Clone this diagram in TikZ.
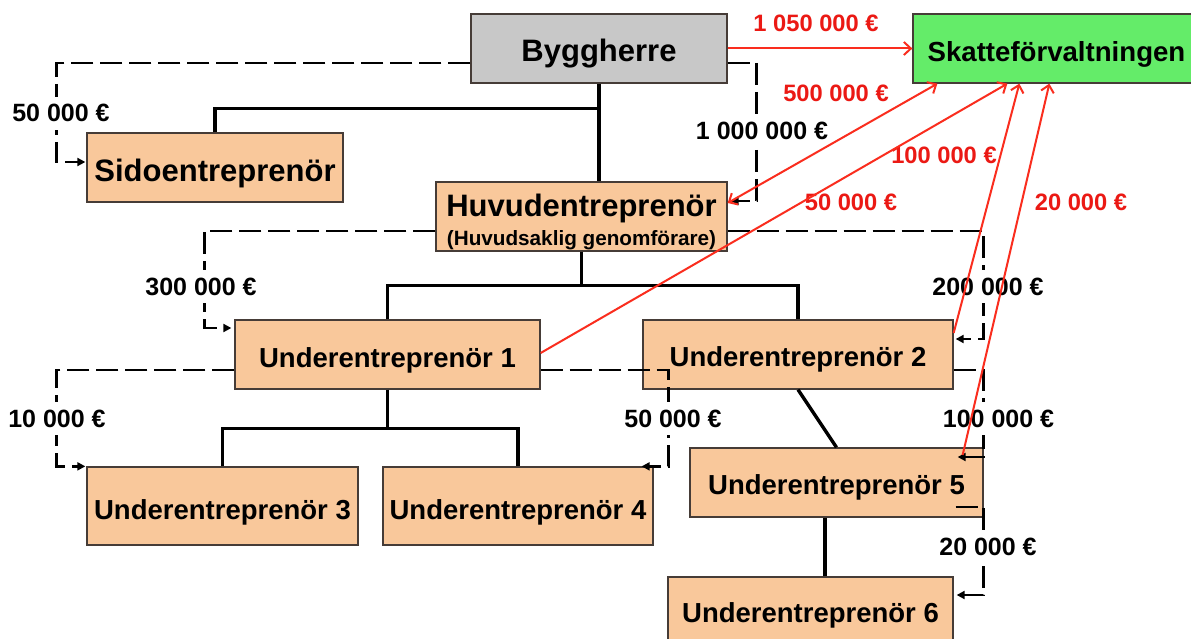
\documentclass[tikz,border=0pt]{standalone}
\usepackage{fontspec}
\setmainfont{Liberation Sans}
\usetikzlibrary{arrows.meta,calc}
\definecolor{peach}{RGB}{249,200,155}
\definecolor{grayfill}{RGB}{200,200,200}
\definecolor{greenfill}{RGB}{100,236,105}
\definecolor{redline}{RGB}{250,45,30}
\definecolor{redtext}{RGB}{235,25,20}
\definecolor{boxline}{RGB}{70,60,55}
\begin{document}
\begin{tikzpicture}[x=1pt,y=-1pt,
  box/.style={draw=boxline, line width=1.3pt, rectangle, inner sep=0pt, font=\bfseries\fontsize{27.5}{30}\selectfont},
  peachbox/.style={box, fill=peach},
  bigfont/.style={font=\bfseries\fontsize{31}{33}\selectfont},
  subtext/.style={anchor=base, inner sep=0pt, font=\bfseries\fontsize{20.7}{22}\selectfont},
  amount/.style={anchor=base, fill=white, inner xsep=2pt, inner ysep=8pt, font=\bfseries\fontsize{25}{27}\selectfont},
  redamount/.style={anchor=base, inner sep=0pt, text=redtext, font=\bfseries\fontsize{23.7}{26}\selectfont},
  tree/.style={line width=3.4pt, black},
  dashline/.style={line width=2.6pt, black, dash pattern=on 22pt off 7pt, -{Triangle[length=8pt,width=8pt]}},
  redarrow/.style={line width=2pt, redline, -{Straight Barb[length=7pt,width=13pt]}},
  redboth/.style={line width=2pt, redline, {Straight Barb[length=7pt,width=13pt]}-{Straight Barb[length=7pt,width=13pt]}}
]
\useasboundingbox (0,0) rectangle (1191,639);
\fill[white] (0,0) rectangle (1191,639);
\clip (0,0) rectangle (1191,639);

% boxes
\node[box, fill=grayfill, bigfont, minimum width=256pt, text height=48pt, text depth=21pt] (bygg) at (599,48.5) {Byggherre};
\node[box, fill=greenfill, minimum width=287pt, text height=48pt, text depth=21pt, font=\bfseries\fontsize{27.6}{30}\selectfont] (skatte) at (1056.5,48.5) {Skatteförvaltningen};
\node[peachbox, bigfont, minimum width=256pt, text height=49pt, text depth=20pt] (sido) at (215,167.5) {Sidoentreprenör};
\node[peachbox, bigfont, minimum width=291pt, text height=35pt, text depth=34pt] (huv) at (581.5,216.5) {Huvudentreprenör};
\node[subtext] (huvsub) at (581.5,245) {(Huvudsaklig genomförare)};
\node[peachbox, minimum width=305pt, text height=47pt, text depth=22pt] (u1) at (387.5,354.5) {Underentreprenör 1};
\node[peachbox, minimum width=310pt, text height=46pt, text depth=23pt] (u2) at (798,354.5) {Underentreprenör 2};
\node[peachbox, minimum width=271pt, text height=52pt, text depth=26pt] (u3) at (222.5,506) {Underentreprenör 3};
\node[peachbox, minimum width=270pt, text height=52pt, text depth=26pt] (u4) at (518,506) {Underentreprenör 4};
\node[peachbox, minimum width=293pt, text height=46pt, text depth=23pt] (u5) at (836.5,482.5) {Underentreprenör 5};
\node[peachbox, minimum width=285pt, text height=45pt, text depth=38pt] (u6) at (810.5,618.5) {Underentreprenör 6};

% tree connectors
\draw[tree] (bygg.south) -- (bygg.south |- huv.north);
\draw[tree] ($(bygg.south)+(0,25)$) -| (sido.north);
\coordinate (hj) at ($(huv.south)+(0,34)$);
\draw[tree] (huv.south) -- (hj);
\draw[tree] (u1.north) |- (hj) -| (u2.north);
\coordinate (uj) at ($(u1.south)+(0,39)$);
\draw[tree] (u1.south) -- (uj);
\draw[tree] (u3.north) |- (uj) -| (u4.north);
\draw[tree] (u2.south) -- (u5.north);
\coordinate (u56) at ($(u5.south)+(-11.5,0)$);
\draw[tree] (u56) -- (u56 |- u6.north);

% dashed payment arrows
\draw[dashline] ($(bygg.west)+(0,14.5)$) -| ($(sido.west)+(-30,-5.5)$) -- ($(sido.west)+(-1,-5.5)$);
\draw[dashline] ($(bygg.east)+(0,14.5)$) -| ($(huv.east)+(29,-15.5)$) -- ($(huv.east)+(3,-15.5)$);
\draw[dashline] ($(huv.west)+(0,14.5)$) -| ($(u1.west)+(-30,-26.5)$) -- ($(u1.west)+(-3,-26.5)$);
\draw[dashline] ($(huv.east)+(0,14.5)$) -| ($(u2.east)+(30,-15.5)$) -- ($(u2.east)+(2,-15.5)$);
\draw[dashline] ($(u1.west)+(0,15.5)$) -| ($(u3.north west)+(-30,0)$) -- ($(u3.north west)+(-1,0)$);
\draw[dashline] ($(u1.east)+(0,15.5)$) -| ($(u4.north east)+(15,0)$) -- ($(u4.north east)+(-12,0)$);
\draw[dashline] ($(u2.east)+(0,15.5)$) -| ($(u5.east)+(0,-25.5)$) -- ($(u5.east)+(-26,-25.5)$);
\draw[dashline] ($(u5.east)+(-28,24.5)$) -| ($(u6.east)+(30,-23.5)$) -- ($(u6.east)+(3,-23.5)$);

% black amounts
\node[amount] (a1) at (61,122) {50 000 €};
\node[amount] (a2) at (762,140) {1 000 000 €};
\node[amount] (a3) at (201,295) {300 000 €};
\node[amount] (a4) at (988,295) {200 000 €};
\node[amount] (a5) at (57,427) {10 000 €};
\node[amount] (a6) at (673,427) {50 000 €};
\node[amount] (a7) at (998.5,427) {100 000 €};
\node[amount] (a8) at (988,555) {20 000 €};

% red amounts
\node[redamount] (r1) at (816,32) {1 050 000 €};
\node[redamount] (r2) at (836,102) {500 000 €};
\node[redamount] (r3) at (944,164) {100 000 €};
\node[redamount] (r4) at (851,211) {50 000 €};
\node[redamount] (r5) at (1081,211) {20 000 €};

% red reporting arrows
\draw[redarrow] (bygg.east) -- (skatte.west);
\draw[redboth] ($(huv.east)+(0,-13.5)$) -- ($(skatte.south west)+(25,0)$);
\draw[redarrow] ($(u1.east)+(0,-1.5)$) -- ($(skatte.south west)+(95,0)$);
\draw[redarrow] ($(u2.east)+(0,-21.5)$) -- ($(skatte.south west)+(107,0)$);
\draw[redarrow] ($(u5.east)+(-21,-27.5)$) -- ($(skatte.south west)+(137,0)$);
\end{tikzpicture}
\end{document}
